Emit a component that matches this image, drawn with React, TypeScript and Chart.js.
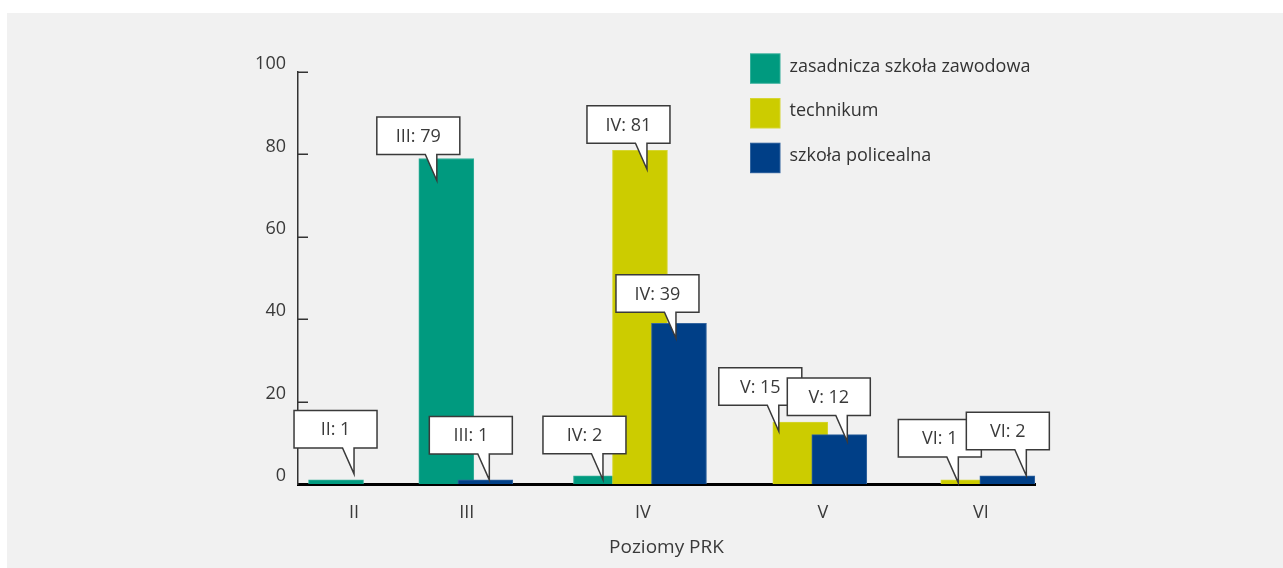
import React, { useEffect, useRef } from 'react';
import { Chart, registerables, CategoryScale } from 'chart.js';

// ---------- data ----------
const categories = ['II', 'III', 'IV', 'V', 'VI'];
const seriesNames = ['zasadnicza szkoła zawodowa', 'technikum', 'szkoła policealna'];
const zasadnicza: (number | null)[] = [1, 79, 2, null, null];
const technikum: (number | null)[] = [null, null, 81, 15, 1];
const policealna: (number | null)[] = [null, 1, 39, 12, 2];
const yTickValues = [0, 20, 40, 60, 80, 100];
const xTitle = 'Poziomy PRK';

// ---------- styling / layout ----------
const COLORS = ['#009a7f', '#cccc00', '#003f87'];
const BORDERS = ['#33ae99', '#d6d633', '#33659f'];
const TEXT = '#3a3a3a';
const FONT = '"Open Sans", "Noto Sans", sans-serif';
const BAR_STEP = 39;
const BAR_WIDTH = 55;
// fractional placement of bar groups and tick labels along the x axis
const GROUP_POS = [0.0516, 0.2277, 0.464, 0.708, 0.936];
const TICK_POS = [0.076, 0.2289, 0.468, 0.712, 0.9267];
// callout tip offsets from the top-centre of each bar [dx, dy]
const CALLOUT_TIP: ([number, number] | null)[][] = [
  [[18, -6], [-9.5, 22], [2, 4], null, null],
  [null, null, [7, 19], [-21.5, 9], [-10, 3]],
  [null, [4, 0], [-3, 15], [8, 7], [19, 0]],
];

class PlacedCategoryScale extends CategoryScale {
  static id = 'placedCategory';
  static defaults = CategoryScale.defaults;
  getPixelForValue(value: any) {
    let v = value;
    if (typeof v !== 'number') v = (this as any).parse(v);
    if (v === null || v === undefined || isNaN(v)) return NaN;
    return this.left + GROUP_POS[v] * this.width;
  }
  getPixelForTick(index: number) {
    const t = this.ticks[index];
    if (!t) return null as any;
    return this.left + TICK_POS[t.value] * this.width;
  }
}

Chart.register(...registerables, PlacedCategoryScale);

function drawCallout(ctx: CanvasRenderingContext2D, text: string, tipX: number, tipY: number) {
  const W = 83, H = 37.5, TAIL = 26;
  const left = tipX - 60;
  const bottom = tipY - TAIL;
  const top = bottom - H;
  ctx.save();
  ctx.beginPath();
  ctx.moveTo(left, top);
  ctx.lineTo(left + W, top);
  ctx.lineTo(left + W, bottom);
  ctx.lineTo(tipX, bottom);
  ctx.lineTo(tipX, tipY);
  ctx.lineTo(left + 48.5, bottom);
  ctx.lineTo(left, bottom);
  ctx.closePath();
  ctx.fillStyle = '#ffffff';
  ctx.fill();
  ctx.strokeStyle = '#3a3a3a';
  ctx.lineWidth = 1.5;
  ctx.lineJoin = 'miter';
  ctx.stroke();
  ctx.fillStyle = TEXT;
  ctx.font = `18px ${FONT}`;
  ctx.textAlign = 'center';
  ctx.textBaseline = 'middle';
  ctx.fillText(text, left + W / 2, top + H / 2 + 1);
  ctx.restore();
}

const customPlugin = {
  id: 'customLayers',
  afterDatasetsUpdate(chart: any) {
    chart.data.datasets.forEach((_: any, i: number) => {
      chart.getDatasetMeta(i).data.forEach((el: any) => {
        el.width = BAR_WIDTH;
      });
    });
  },
  beforeDatasetsDraw(chart: any) {
    for (let i = 0; i < chart.data.datasets.length; i++) {
      const meta = chart.getDatasetMeta(i);
      if (meta.visible !== false) meta.controller.draw();
    }
    return false;
  },
  afterDraw(chart: any) {
    const ctx: CanvasRenderingContext2D = chart.ctx;
    const yScale = chart.scales.y;
    // inward tick marks on y axis
    ctx.save();
    ctx.strokeStyle = '#333333';
    ctx.lineWidth = 1.5;
    yTickValues.forEach((v) => {
      if (v === 0) return;
      const y = Math.round(yScale.getPixelForValue(v)) + 0.25;
      ctx.beginPath();
      ctx.moveTo(yScale.right, y);
      ctx.lineTo(yScale.right + 10, y);
      ctx.stroke();
    });
    ctx.restore();

    // legend
    ctx.save();
    const lx = 743, ly = 40.3, step = 44.7, sw = 30.5;
    chart.data.datasets.forEach((ds: any, i: number) => {
      const y = ly + i * step;
      ctx.fillStyle = BORDERS[i];
      ctx.fillRect(lx, y, sw, sw);
      ctx.fillStyle = COLORS[i];
      ctx.fillRect(lx + 1, y + 1, sw - 2, sw - 2);
      ctx.fillStyle = '#333333';
      ctx.font = `18px ${FONT}`;
      ctx.textAlign = 'left';
      ctx.textBaseline = 'middle';
      ctx.fillText(ds.label, lx + 39.5, y + sw / 2 - 2);
    });
    ctx.restore();

    // callouts
    chart.data.datasets.forEach((ds: any, i: number) => {
      const meta = chart.getDatasetMeta(i);
      ds.data.forEach((v: number | null, j: number) => {
        if (v === null || v === undefined) return;
        const off = CALLOUT_TIP[i][j] || [0, 0];
        const el = meta.data[j];
        drawCallout(ctx, `${categories[j]}: ${v}`, el.x + off[0], el.y + off[1]);
      });
    });
  },
};

export default function App() {
  const canvasRef = useRef<HTMLCanvasElement | null>(null);

  useEffect(() => {
    const canvas = canvasRef.current;
    if (!canvas) return;
    const values = [zasadnicza, technikum, policealna];
    const chart = new Chart(canvas, {
      type: 'bar',
      data: {
        labels: categories,
        datasets: values.map((vals, i) => ({
          label: seriesNames[i],
          data: vals,
          backgroundColor: COLORS[i],
          borderColor: BORDERS[i],
          borderWidth: 1,
          skipNull: true,
          barThickness: BAR_STEP,
        })),
      },
      options: {
        animation: false,
        responsive: false,
        maintainAspectRatio: false,
        events: [],
        layout: { padding: { top: 59, right: 248, bottom: 0, left: 0 } },
        plugins: {
          legend: { display: false },
          tooltip: { enabled: false },
        },
        scales: {
          x: {
            type: 'placedCategory' as any,
            grid: { display: false, drawTicks: false },
            border: { display: true, color: '#000000', width: 3 },
            ticks: {
              color: TEXT,
              font: { family: FONT, size: 18 },
              padding: 18,
              maxRotation: 0,
              autoSkip: false,
            },
            title: {
              display: true,
              text: xTitle,
              color: TEXT,
              font: { family: FONT, size: 19 },
              padding: { top: 4, bottom: 9 },
            },
            afterFit: (s: any) => {
              s.height = 84;
            },
          },
          y: {
            min: 0,
            max: 100,
            grid: { display: false, drawTicks: false },
            border: { display: true, color: '#333333', width: 1.5 },
            ticks: {
              stepSize: 20,
              color: TEXT,
              font: { family: FONT, size: 18 },
              padding: 12,
              labelOffset: -8,
            },
            afterFit: (s: any) => {
              s.width = 291;
            },
          },
        },
      } as any,
      plugins: [customPlugin as any],
    });
    return () => chart.destroy();
  }, []);

  return (
    <div
      style={{
        position: 'fixed',
        left: 7,
        top: 13,
        width: 1276,
        height: 555,
        background: '#f1f1f1',
      }}
    >
      <canvas ref={canvasRef} width={1276} height={555} style={{ display: 'block', width: 1276, height: 555 }} />
    </div>
  );
}
